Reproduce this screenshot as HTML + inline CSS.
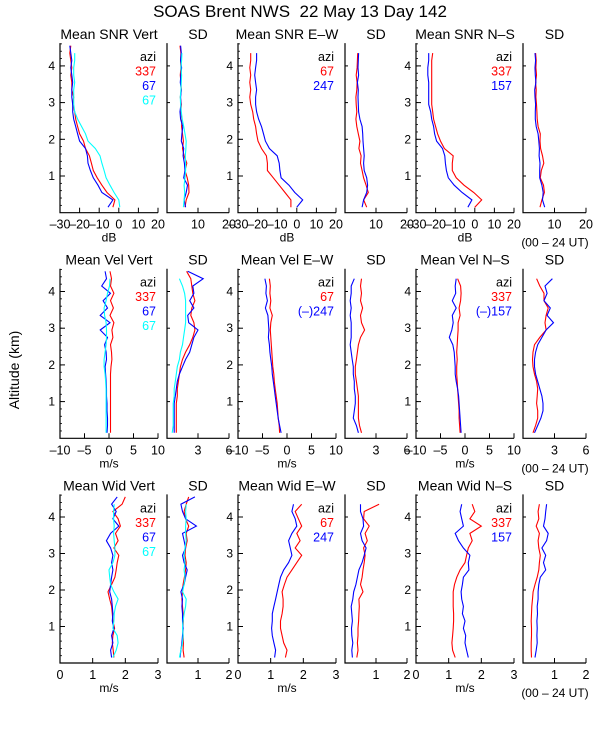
<!DOCTYPE html>
<html><head><meta charset="utf-8"><style>
html,body{margin:0;padding:0;background:#fff;}
svg{display:block;font-family:"Liberation Sans",sans-serif;}
</style></head><body>
<svg id="c" width="600" height="750" viewBox="0 0 600 750" xmlns="http://www.w3.org/2000/svg">
<text x="300" y="17" font-size="17" text-anchor="middle">SOAS Brent NWS&#160; 22 May 13 Day 142</text>
<text x="0" y="0" font-size="14" text-anchor="middle" transform="translate(19,370) rotate(-90)">Altitude (km)</text>
</svg>
<script>
const altitudes=[0.15,0.35,0.55,0.75,0.95,1.15,1.35,1.55,1.75,1.95,2.15,2.35,2.55,2.75,2.95,3.15,3.35,3.55,3.75,3.95,4.15,4.35,4.55];
// Row 1 SNR
const snrVertRed=[-3,-2,-6,-8.6,-11,-13,-14,-15,-17,-18,-20,-21,-22,-22.5,-23.5,-23,-24,-24,-24.5,-24,-24.5,-25,-24.5];
const snrVertBlue=[-5.5,-3,-8.6,-10.6,-13,-14.5,-15.7,-16,-17,-20,-21,-22,-23,-23.5,-23.5,-24,-24,-23.5,-24,-24.5,-24,-24.5,-25];
const snrVertCyan=[0.5,0,-2.4,-4.5,-6.5,-7.5,-8.6,-9.6,-12,-15.7,-17,-19,-21,-22.5,-23,-23,-23,-22.5,-23,-23,-22.5,-22.5,null];
const snrVertSdRed=[5.8,6.2,7.1,7.0,6.5,5.8,6.4,5.5,5.0,5.3,5.0,4.7,4.8,4.5,4.6,4.3,4.6,4.5,4.3,4.5,4.4,4.5,4.2];
const snrVertSdBlue=[6.0,5.5,6.2,6.6,5.4,5.8,5.6,5.2,5.4,4.6,4.8,5.1,4.4,4.2,4.5,4.4,4.6,4.3,4.5,4.7,4.4,4.6,4.4];
const snrVertSdCyan=[5.3,5.5,5.7,5.5,5.8,6.0,6.0,5.9,6.1,6.2,5.8,5.4,4.9,4.6,4.4,4.3,4.5,4.6,4.7,4.5,4.7,4.8,null];
const snrEwRed=[-3,-3,-6,-9,-12,-15,-15,-15.5,-18,-19.8,-20.5,-21,-22,-22.5,-23.5,-24,-23.5,-24,-23.5,-24,-23.5,-23.5,null];
const snrEwBlue=[0,3,-1,-4,-8,-8.6,-9,-10,-14,-16,-17,-18,-19.5,-20.5,-21,-21,-20.5,-21,-21.5,-21,-20.5,-20.5,null];
const snrEwSdRed=[7,6,7.5,6.8,6,5.5,5,5.2,4.5,4.8,4.3,3.8,3.5,3.8,3.6,3.5,3.8,3.9,3.6,3.9,4.0,4.1,null];
const snrEwSdBlue=[5.5,6,7,7.3,7,6.2,6,6.2,6,5.8,5.7,5.5,4.8,4.4,4.3,4.2,4.3,4.0,4.4,4.2,4.3,4.4,null];
const snrNsRed=[0,3.5,-0.5,-5.5,-9.5,-11.5,-11.5,-11,-15.5,-17.5,-19,-20,-21,-21.5,-22,-22,-22,-22,-22,-22,-22,-21.5,null];
const snrNsBlue=[-3.5,-1.5,-6.5,-10.5,-13.5,-14.5,-15,-15.3,-16.5,-19.5,-20.5,-21,-22,-22.5,-23.5,-23.5,-23.5,-23.5,-24,-24,-23.5,-23.5,null];
const snrNsSdRed=[5.4,6,6.8,6.5,5.5,5.8,6.6,6.2,5.6,5.4,5.5,4.8,4.5,4.4,4.3,4.1,4.2,4.0,4.3,4.1,4.2,4.0,null];
const snrNsSdBlue=[6.9,6.2,6.4,6,5.3,5.3,5.4,5.1,5.2,5.0,4.8,4.2,3.9,3.9,4.0,3.8,3.7,4.1,3.9,3.8,4.0,3.8,null];
// Row 2 velocity
const velVertRed=[0.3,0.3,0.3,0.3,0.3,0.3,0.3,0.3,0.3,0.4,0.6,0.5,0.3,0.8,0.6,1.0,0.2,0.9,0.3,1.0,0.3,0.5,0.2];
const velVertBlue=[-0.4,-0.3,-0.3,-0.4,-0.4,-0.5,-0.5,-0.6,-0.7,-0.8,-0.5,-0.6,-0.9,-0.3,-1.8,0.2,-1.8,-0.3,-1.2,0.3,-1.5,-0.5,-0.8];
const velVertCyan=[-0.6,-0.6,-0.6,-0.6,-0.6,-0.6,-0.6,-0.7,-0.8,-1.0,-1.0,-0.8,-0.6,-0.5,-0.5,-0.6,-0.9,-1.0,-0.6,-0.3,0.1,0.2,null];
const velVertSdRed=[0.9,0.9,0.9,0.9,0.9,1.0,1.0,1.1,1.2,1.3,1.5,1.8,2.2,2.5,2.7,2.6,2.3,2.4,2.7,2.5,2.4,2.3,1.9];
const velVertSdBlue=[0.7,0.7,0.7,0.7,0.7,0.8,0.9,1.0,1.2,1.5,1.8,2.2,2.4,2.6,3.0,2.1,2.0,2.6,2.2,2.6,2.5,3.5,2.0];
const velVertSdCyan=[0.5,0.6,0.6,0.6,0.6,0.7,0.7,0.8,0.9,1.0,1.2,1.3,1.5,1.6,1.7,1.8,1.8,1.8,1.8,1.7,1.5,1.2,null];
const velEwRed=[-1.5,-1.6,-1.8,-1.9,-2.0,-2.2,-2.4,-2.6,-2.7,-2.9,-3.0,-3.1,-3.2,-3.3,-3.4,-3.3,-3.0,-3.5,-3.3,-3.5,-3.4,-3.6,null];
const velEwBlue=[-1.2,-1.5,-1.8,-2.0,-2.2,-2.4,-2.6,-2.8,-3.0,-3.1,-3.3,-3.5,-3.6,-3.8,-3.7,-3.8,-3.9,-4.4,-4.0,-4.3,-4.2,-4.5,null];
const velEwSdRed=[1.6,1.4,1.3,1.3,1.3,1.3,1.2,1.1,1.0,1.0,1.1,1.2,1.3,1.5,1.9,1.6,1.5,1.7,1.5,1.6,1.5,1.6,null];
const velEwSdBlue=[1.3,1.1,0.8,0.9,1.0,1.0,0.9,0.9,0.8,0.8,0.7,0.6,0.5,0.6,0.6,0.6,0.5,0.6,0.5,0.6,0.6,0.9,null];
const velNsRed=[-1.0,-1.1,-1.2,-1.2,-1.3,-1.4,-1.5,-1.6,-1.7,-1.7,-1.6,-1.7,-1.6,-1.5,-1.4,-1.4,-1.0,-1.2,-0.9,-0.8,-0.9,-1.5,null];
const velNsBlue=[-0.8,-0.9,-1.0,-1.1,-1.2,-1.3,-1.5,-1.8,-2.0,-2.0,-2.1,-2.2,-2.5,-3.2,-2.7,-2.4,-2.6,-1.8,-2.6,-1.9,-2.0,-1.8,null];
const velNsSdRed=[0.95,1.2,1.4,1.4,1.3,1.35,1.4,1.3,1.1,0.95,0.9,0.95,1.1,1.6,2.2,2.1,2.2,2.4,2.0,2.0,1.6,1.3,null];
const velNsSdBlue=[1.1,1.4,1.7,1.9,1.9,1.8,1.6,1.4,1.2,1.1,1.1,1.2,1.4,1.8,2.2,2.9,2.3,2.6,2.0,2.3,2.1,2.8,null];
// Row 3 width
const widVertRed=[1.65,1.63,1.60,1.62,1.67,1.62,1.60,1.58,1.52,1.47,1.58,1.68,1.72,1.75,1.80,1.65,1.78,1.70,1.85,1.78,1.62,1.90,2.0];
const widVertBlue=[1.58,1.55,1.62,1.58,1.65,1.60,1.62,1.60,1.58,1.52,1.55,1.58,1.62,1.58,1.62,1.55,1.42,1.55,1.80,1.62,1.72,1.58,1.75];
const widVertCyan=[1.62,1.72,1.78,1.75,1.62,1.65,1.66,1.70,1.78,1.65,1.55,1.52,1.50,1.62,1.68,1.68,1.66,1.64,1.66,1.64,1.64,1.66,null];
const widVertSdRed=[0.55,0.52,0.53,0.52,0.51,0.53,0.52,0.5,0.48,0.5,0.52,0.56,0.6,0.62,0.58,0.6,0.65,0.62,0.7,0.6,0.55,0.62,0.7];
const widVertSdBlue=[0.42,0.45,0.48,0.5,0.52,0.5,0.5,0.48,0.5,0.45,0.55,0.6,0.65,0.55,0.5,0.6,0.55,0.5,0.95,0.6,0.5,0.45,0.9];
const widVertSdCyan=[0.4,0.45,0.5,0.52,0.5,0.52,0.55,0.6,0.62,0.5,0.55,0.58,0.55,0.58,0.55,0.58,0.62,0.6,0.6,0.62,0.6,0.62,null];
const widEwRed=[1.45,1.5,1.4,1.35,1.3,1.3,1.35,1.38,1.38,1.35,1.42,1.5,1.65,1.8,1.95,1.75,1.9,1.8,1.95,1.85,1.75,1.95,null];
const widEwBlue=[1.12,1.15,1.1,1.05,1.03,1.05,1.05,1.1,1.15,1.2,1.25,1.3,1.4,1.55,1.65,1.6,1.55,1.65,1.8,1.75,1.65,1.7,null];
const widEwSdRed=[0.38,0.42,0.4,0.42,0.42,0.44,0.45,0.46,0.45,0.58,0.5,0.55,0.58,0.62,0.65,0.6,0.72,0.65,0.78,0.6,0.62,1.1,null];
const widEwSdBlue=[0.24,0.22,0.25,0.22,0.21,0.24,0.22,0.2,0.25,0.28,0.35,0.4,0.45,0.55,0.62,0.68,0.55,0.5,0.6,0.58,0.5,0.5,null];
const widNsRed=[1.2,1.12,1.1,1.12,1.14,1.15,1.15,1.14,1.14,1.14,1.18,1.25,1.35,1.5,1.55,1.6,1.72,1.65,2.0,1.65,1.8,1.72,null];
const widNsBlue=[1.6,1.55,1.5,1.52,1.45,1.5,1.42,1.45,1.4,1.38,1.42,1.45,1.62,1.6,1.65,1.45,1.3,1.2,1.45,1.4,1.35,1.4,null];
const widNsSdRed=[0.27,0.26,0.26,0.27,0.27,0.26,0.27,0.28,0.3,0.32,0.38,0.45,0.5,0.52,0.55,0.5,0.48,0.52,0.42,0.5,0.48,0.52,null];
const widNsSdBlue=[0.38,0.42,0.45,0.44,0.45,0.44,0.46,0.45,0.48,0.48,0.5,0.55,0.72,0.65,0.72,0.6,0.75,0.8,0.65,0.7,0.72,0.75,null];
const yTickLabels=[1,2,3,4];
const snrTicks=[-30,-20,-10,0,10,20], snrSdTicks=[10,20];
const velTicks=[-10,-5,0,5,10], velSdTicks=[3,6];
const widTicks=[0,1,2,3], widSdTicks=[1,2];

const R='#ff0000',B='#0000ff',C='#00ffff';
const svg=document.getElementById('c');
const NS='http://www.w3.org/2000/svg';
function el(tag,attrs,parent){const e=document.createElementNS(NS,tag);for(const k in attrs)e.setAttribute(k,attrs[k]);(parent||svg).appendChild(e);return e;}
function txt(x,y,s,size,anchor,fill,parent){const t=el('text',{x:x,y:y,'font-size':size,'text-anchor':anchor,fill:fill||'#000'},parent);t.textContent=s;return t;}

const rowBottom=[212.7,438.3,663];
const rowScale=[36.7,36.7,36.5];
const mainX=[[60,158],[238,336],[416,514]];
const sdX=[[167,229],[345,407],[523,586]];
const rows=[
 {unit:'dB',main:[-30,20],mainTicks:snrTicks,sd:[0,20],sdTicks:snrSdTicks,
  panels:[
   {title:'Mean SNR Vert',series:[snrVertRed,snrVertBlue,snrVertCyan],sd:[snrVertSdRed,snrVertSdBlue,snrVertSdCyan],leg:['337','67','67']},
   {title:'Mean SNR E\u2013W',series:[snrEwRed,snrEwBlue],sd:[snrEwSdRed,snrEwSdBlue],leg:['67','247']},
   {title:'Mean SNR N\u2013S',series:[snrNsRed,snrNsBlue],sd:[snrNsSdRed,snrNsSdBlue],leg:['337','157']}]},
 {unit:'m/s',main:[-10,10],mainTicks:velTicks,sd:[0,6],sdTicks:velSdTicks,
  panels:[
   {title:'Mean Vel Vert',series:[velVertRed,velVertBlue,velVertCyan],sd:[velVertSdRed,velVertSdBlue,velVertSdCyan],leg:['337','67','67']},
   {title:'Mean Vel E\u2013W',series:[velEwRed,velEwBlue],sd:[velEwSdRed,velEwSdBlue],leg:['67','(\u2013)247']},
   {title:'Mean Vel N\u2013S',series:[velNsRed,velNsBlue],sd:[velNsSdRed,velNsSdBlue],leg:['337','(\u2013)157']}]},
 {unit:'m/s',main:[0,3],mainTicks:widTicks,sd:[0,2],sdTicks:widSdTicks,
  panels:[
   {title:'Mean Wid Vert',series:[widVertRed,widVertBlue,widVertCyan],sd:[widVertSdRed,widVertSdBlue,widVertSdCyan],leg:['337','67','67']},
   {title:'Mean Wid E\u2013W',series:[widEwRed,widEwBlue],sd:[widEwSdRed,widEwSdBlue],leg:['67','247']},
   {title:'Mean Wid N\u2013S',series:[widNsRed,widNsBlue],sd:[widNsSdRed,widNsSdBlue],leg:['337','157']}]}
];
const cols=[R,B,C];

function drawAxes(g,x0,x1,yb,ys,dom,ticks,isMain,showY){
  const yt=yb-4.62*ys;
  const xs=v=>x0+(v-dom[0])/(dom[1]-dom[0])*(x1-x0);
  const ax=el('path',{d:`M${x0},${yt}V${yb}H${x1}`,stroke:'#000','stroke-width':1.2,fill:'none'},g);
  
  
  for(let k=1;k<=4;k++){
    const y=yb-k*ys;
    el('line',{x1:x0,x2:x0+(isMain?5:3),y1:y,y2:y,stroke:'#000'},g);
  }
  if(isMain){for(let k=0.2;k<4.62;k+=0.2){const y=yb-k*ys;el('line',{x1:x0,x2:x0+2,y1:y,y2:y,stroke:'#000','stroke-width':0.8},g);}}
  if(showY){yTickLabels.forEach(v=>{const t=txt(x0-5,yb-v*ys+4,String(v),12,'end',null,g);
    
    });}
  ticks.forEach(v=>{const x=xs(v);
    el('line',{x1:x,x2:x,y1:yb,y2:yb-5,stroke:'#000'},g);
    const t=txt(x,yb+16,String(v).replace('-','\u2013'),12.5,'middle',null,g);
    
    });
  return xs;
}
function drawSeries(g,data,xs,yb,ys,color){
  let d='';let pen=false;
  data.forEach((v,i)=>{if(v===null){pen=false;return;}const x=xs(v),y=yb-altitudes[i]*ys;d+=(pen?'L':'M')+x.toFixed(1)+','+y.toFixed(1);pen=true;});
  const p=el('path',{d:d,stroke:color,'stroke-width':1.1,fill:'none'},g);
  
  
}
rows.forEach((row,ri)=>{
  const yb=rowBottom[ri],ys=rowScale[ri],yt=yb-4.62*ys;
  row.panels.forEach((p,pi)=>{
    const g=el('g',{});
    
    
    const [mx0,mx1]=mainX[pi];
    const xs=drawAxes(g,mx0,mx1,yb,ys,row.main,row.mainTicks,true,true);
    const t=txt((mx0+mx1)/2,yt-4,p.title,14,'middle',null,g);
    
    
    const u=txt((mx0+mx1)/2,yb+29,row.unit,12,'middle',null,g);
    
    
    p.series.forEach((s,si)=>drawSeries(g,s,xs,yb,ys,cols[si]));
    const lg=el('g',{},g);
    
    
    txt(mx1-2,yt+18,'azi',12.5,'end','#000',lg);
    p.leg.forEach((s,li)=>{const e=txt(mx1-2,yt+32.5+li*14.5,s,12.5,'end',cols[li],lg);
      
      });
    const [sx0,sx1]=sdX[pi];
    const g2=el('g',{});
    
    
    const xs2=drawAxes(g2,sx0,sx1,yb,ys,row.sd,row.sdTicks,false,false);
    const t2=txt((sx0+sx1)/2,yt-4,'SD',14,'middle',null,g2);
    
    
    p.sd.forEach((s,si)=>drawSeries(g2,s,xs2,yb,ys,cols[si]));
  });
  const ut=txt(555,yb+34,'(00 \u2013 24 UT)',12,'middle');
  
  
});
</script>
</body></html>
